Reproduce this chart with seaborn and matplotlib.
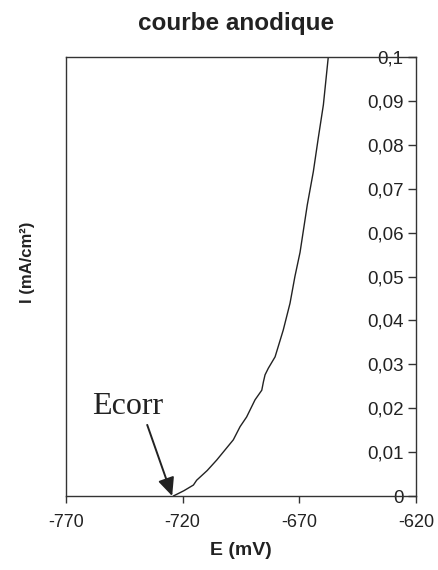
import matplotlib
matplotlib.use("Agg")
import pandas as pd
import matplotlib.pyplot as plt
import seaborn as sns

# anodic polarisation curve
E_mV = [-724.0, -719.5, -715.4, -714.0, -709.5, -705.4, -698.3, -695.4, -692.6,
        -689.0, -686.1, -685.4, -684.7, -683.3, -680.4, -676.9, -674.0, -671.9,
        -669.7, -666.6, -664.0, -661.9, -659.7, -657.6]
I_mA = [0.0, 0.0012, 0.0025, 0.0036, 0.0058, 0.0082, 0.0128, 0.0158, 0.0180,
        0.0219, 0.0241, 0.0260, 0.0276, 0.0291, 0.0317, 0.0378, 0.0439, 0.0500,
        0.0555, 0.0663, 0.0739, 0.0815, 0.0891, 0.1000]

x_ticks = [-770, -720, -670, -620]
y_ticks = [0, 0.01, 0.02, 0.03, 0.04, 0.05, 0.06, 0.07, 0.08, 0.09, 0.1]
y_tick_labels = ["0", "0,01", "0,02", "0,03", "0,04", "0,05", "0,06", "0,07",
                 "0,08", "0,09", "0,1"]

E_corr = -724.5

df = pd.DataFrame({"E": E_mV, "I": I_mA})

sns.set_style("white")
plt.rcParams['font.family'] = ['Liberation Sans', 'DejaVu Sans']

fig = plt.figure(figsize=(4.38, 5.70), dpi=100)
ax = fig.add_axes([0.1507, 0.1298, 0.7991, 0.7702])

sns.lineplot(data=df, x="E", y="I", sort=False, estimator=None,
             color="#222222", linewidth=1.0, ax=ax)

ax.set_xlim(-770, -620)
ax.set_ylim(0, 0.1)
ax.set_xticks(x_ticks)
ax.set_xticklabels([str(v) for v in x_ticks])
ax.set_yticks(y_ticks)

for s in ax.spines.values():
    s.set_color("#333333")
    s.set_linewidth(1.0)

ax.tick_params(axis='x', direction='out', length=5, width=1, color="#333333",
               pad=8, labelsize=13, labelcolor="#222222", bottom=True)
ax.yaxis.set_ticks_position('right')
ax.tick_params(axis='y', direction='in', length=6, width=1, color="#333333",
               pad=-9, labelsize=13.5, labelcolor="#222222", right=True, left=False,
               labelright=True, labelleft=False)
ax.set_yticklabels(y_tick_labels)
for lbl in ax.yaxis.get_ticklabels():
    lbl.set_horizontalalignment('right')

ax.set_xlabel("E (mV)", fontsize=14, fontweight='bold', color="#222222", labelpad=8)
ax.set_ylabel("I (mA/cm²)", fontsize=12, fontweight='bold', color="#222222")
ax.yaxis.set_label_position('left')
ax.yaxis.set_label_coords(-0.089, 0.533)

fig.text(0.539, 0.958, "courbe anodique", ha='center', va='center',
         fontsize=17.5, fontweight='bold', color="#222222")

ax.text(-743.8, 0.0205, "Ecorr", family='Liberation Serif', fontsize=23,
        ha='center', va='center', color="#222222")
ax.annotate("", xy=(E_corr, 0), xytext=(-735.2, 0.0162),
            arrowprops=dict(arrowstyle='-|>,head_length=1.1,head_width=0.5',
                            mutation_scale=10, color="#222222", lw=1.4,
                            shrinkA=0, shrinkB=0))

fig.savefig("out.png", dpi=100)
